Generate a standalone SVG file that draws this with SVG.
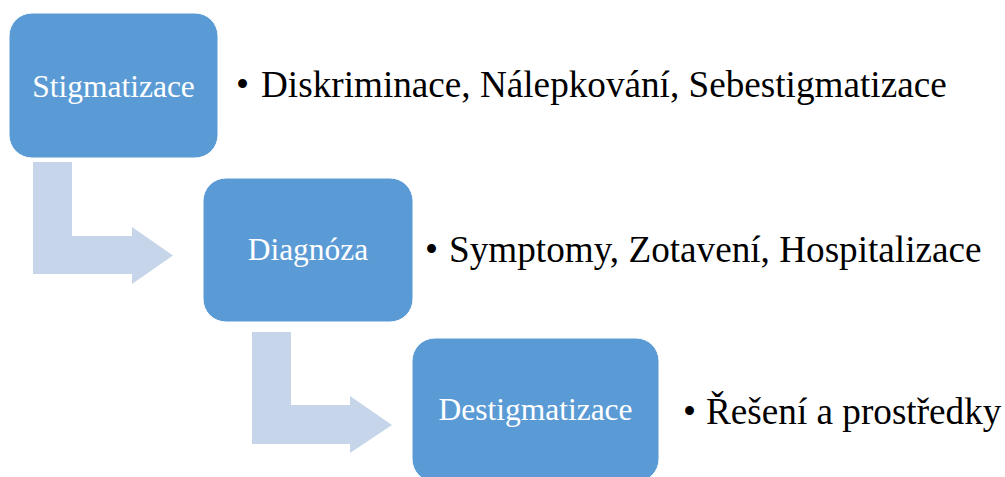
<svg xmlns="http://www.w3.org/2000/svg" width="1005" height="477" viewBox="0 0 1005 477">
<style>
.box{fill:#5B9BD5;stroke:#ffffff;stroke-width:1}
.lbl{font-family:"Liberation Serif","Times New Roman",serif;font-size:31.5px;fill:#ffffff;text-anchor:middle}
.txt{font-family:"Liberation Serif","Times New Roman",serif;font-size:37.2px;fill:#000000}
.arr{fill:#C6D5EA}
</style>
<rect width="1005" height="477" fill="#ffffff"/>
<g id="connectors">
<polygon class="arr" points="33,162 72,162 72,236 132,236 132,227 173,255.5 132,284 132,274 33,274"/>
<polygon class="arr" points="252,332 291,332 291,405 350,405 350,396 392,425 350,453 350,444 252,444"/>
</g>
<g id="node-stigmatizace">
<rect class="box" x="9" y="13" width="209" height="145" rx="23"/>
<text class="lbl" x="113.5" y="97">Stigmatizace</text>
</g>
<g id="text-stigmatizace">
<text class="txt" y="97"><tspan x="236">•</tspan><tspan x="261">Diskriminace, Nálepkování, Sebestigmatizace</tspan></text>
</g>
<g id="node-diagnoza">
<rect class="box" x="203" y="178" width="210" height="144" rx="23"/>
<text class="lbl" x="308" y="260">Diagnóza</text>
</g>
<g id="text-diagnoza">
<text class="txt" y="262"><tspan x="425">•</tspan><tspan x="449">Symptomy, Zotavení, Hospitalizace</tspan></text>
</g>
<g id="node-destigmatizace">
<rect class="box" x="412" y="338" width="247" height="144" rx="23"/>
<text class="lbl" x="535.5" y="420">Destigmatizace</text>
</g>
<g id="text-destigmatizace">
<text class="txt" y="424"><tspan x="683">•</tspan><tspan x="706">Řešení a prostředky</tspan></text>
</g>
</svg>
